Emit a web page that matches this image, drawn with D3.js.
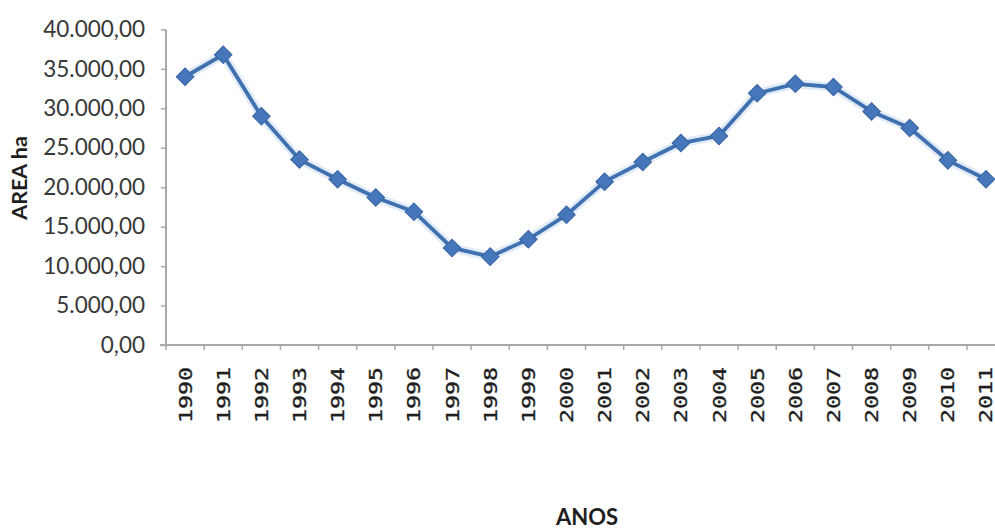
<!DOCTYPE html>
<html>
<head>
<meta charset="utf-8">
<script src="https://cdn.jsdelivr.net/npm/d3@7"></script>
<style>
  html, body { margin: 0; padding: 0; background: #ffffff; }
  svg { display: block; }
</style>
</head>
<body>
<svg id="chart" width="995" height="530"></svg>
<script>
// Área anual (ha), 1990–2011
const years = ["1990","1991","1992","1993","1994","1995","1996","1997","1998","1999","2000",
               "2001","2002","2003","2004","2005","2006","2007","2008","2009","2010","2011"];
const areaHa = [34000, 36800, 29000, 23500, 21000, 18700, 16900, 12300, 11200, 13400, 16500,
                20700, 23200, 25600, 26500, 31900, 33100, 32700, 29600, 27500, 23400, 21000];
const yTicks = [0, 5000, 10000, 15000, 20000, 25000, 30000, 35000, 40000];
const yTitle = "AREA ha";
const xTitle = "ANOS";

const svg = d3.select("#chart");

const axisLeftX = 166, axisBottomY = 345, topY = 29.4, step = 38.14;

const x = d3.scaleBand()
  .domain(years)
  .range([axisLeftX, axisLeftX + step * years.length])
  .paddingInner(0).paddingOuter(0);

const y = d3.scaleLinear()
  .domain([0, 40000])
  .range([axisBottomY, topY]);

const ptBR = d3.formatLocale({ decimal: ",", thousands: ".", grouping: [3], currency: ["R$ ", ""] });
const fmt = ptBR.format(",.2f");

const axisColor = "#a9a9a9";

// Y axis
const gy = svg.append("g")
  .attr("transform", `translate(${axisLeftX},0)`)
  .call(d3.axisLeft(y).tickValues(yTicks).tickSize(5).tickPadding(16).tickFormat(fmt));
gy.select(".domain").attr("stroke", axisColor).attr("stroke-width", 2)
  .attr("d", `M0,${axisBottomY}V${topY}`);
gy.selectAll(".tick line").attr("stroke", axisColor).attr("stroke-width", 1.5);
gy.selectAll(".tick text")
  .attr("fill", "#383838")
  .style("font-family", "Lato, 'Open Sans', sans-serif")
  .style("font-size", "22.5px");

// X axis
const gx = svg.append("g")
  .attr("transform", `translate(0,${axisBottomY})`)
  .call(d3.axisBottom(x).tickSize(0).tickPadding(0));
gx.select(".domain").attr("stroke", axisColor).attr("stroke-width", 2)
  .attr("d", `M${axisLeftX - 6},0H${x.range()[1] + 20}`);
gx.selectAll(".tick text")
  .attr("transform", "rotate(-90)")
  .attr("text-anchor", "end")
  .attr("x", -22)
  .attr("y", 0)
  .attr("dy", "0.36em")
  .attr("fill", "#1e1e1e")
  .attr("stroke", "#1e1e1e")
  .attr("stroke-width", 0.35)
  .attr("textLength", 56)
  .attr("lengthAdjust", "spacingAndGlyphs")
  .style("font-family", "'DejaVu Sans Mono', monospace")
  .style("font-size", "18px");

// Category boundary ticks on the x axis
const boundaries = years.map(d => x(d)).concat([x.range()[1]]);
svg.append("g")
  .selectAll("line")
  .data(boundaries)
  .join("line")
  .attr("x1", d => d).attr("x2", d => d)
  .attr("y1", axisBottomY).attr("y2", axisBottomY + 5)
  .attr("stroke", axisColor).attr("stroke-width", 1.5);

// Series
const pts = years.map((yr, i) => [x(yr) + x.bandwidth() / 2, y(areaHa[i])]);
const line = d3.line();

svg.append("path")
  .attr("d", line(pts))
  .attr("fill", "none")
  .attr("stroke", "#c9dbf0")
  .attr("stroke-width", 9)
  .attr("stroke-linejoin", "round")
  .attr("opacity", 0.55);

svg.append("path")
  .attr("d", line(pts))
  .attr("fill", "none")
  .attr("stroke", "#3f70b0")
  .attr("stroke-width", 3.8)
  .attr("stroke-linejoin", "round");

const marker = d3.symbol().type(d3.symbolSquare).size(150);
svg.append("g")
  .selectAll("path")
  .data(pts)
  .join("path")
  .attr("d", marker)
  .attr("transform", d => `translate(${d[0]},${d[1]}) rotate(45)`)
  .attr("fill", "#4677bb")
  .attr("stroke", "#3a67a8")
  .attr("stroke-width", 1.2);

// Axis titles
svg.append("text")
  .attr("transform", "translate(27,178) rotate(-90)")
  .attr("text-anchor", "middle")
  .attr("fill", "#1e1e1e")
  .style("font-family", "Lato, 'Open Sans', sans-serif")
  .style("font-weight", "bold")
  .style("font-size", "21.5px")
  .text(yTitle);

svg.append("text")
  .attr("x", 587)
  .attr("y", 525)
  .attr("text-anchor", "middle")
  .attr("fill", "#1e1e1e")
  .style("font-family", "Lato, 'Open Sans', sans-serif")
  .style("font-weight", "bold")
  .style("font-size", "22px")
  .text(xTitle);
</script>
</body>
</html>
